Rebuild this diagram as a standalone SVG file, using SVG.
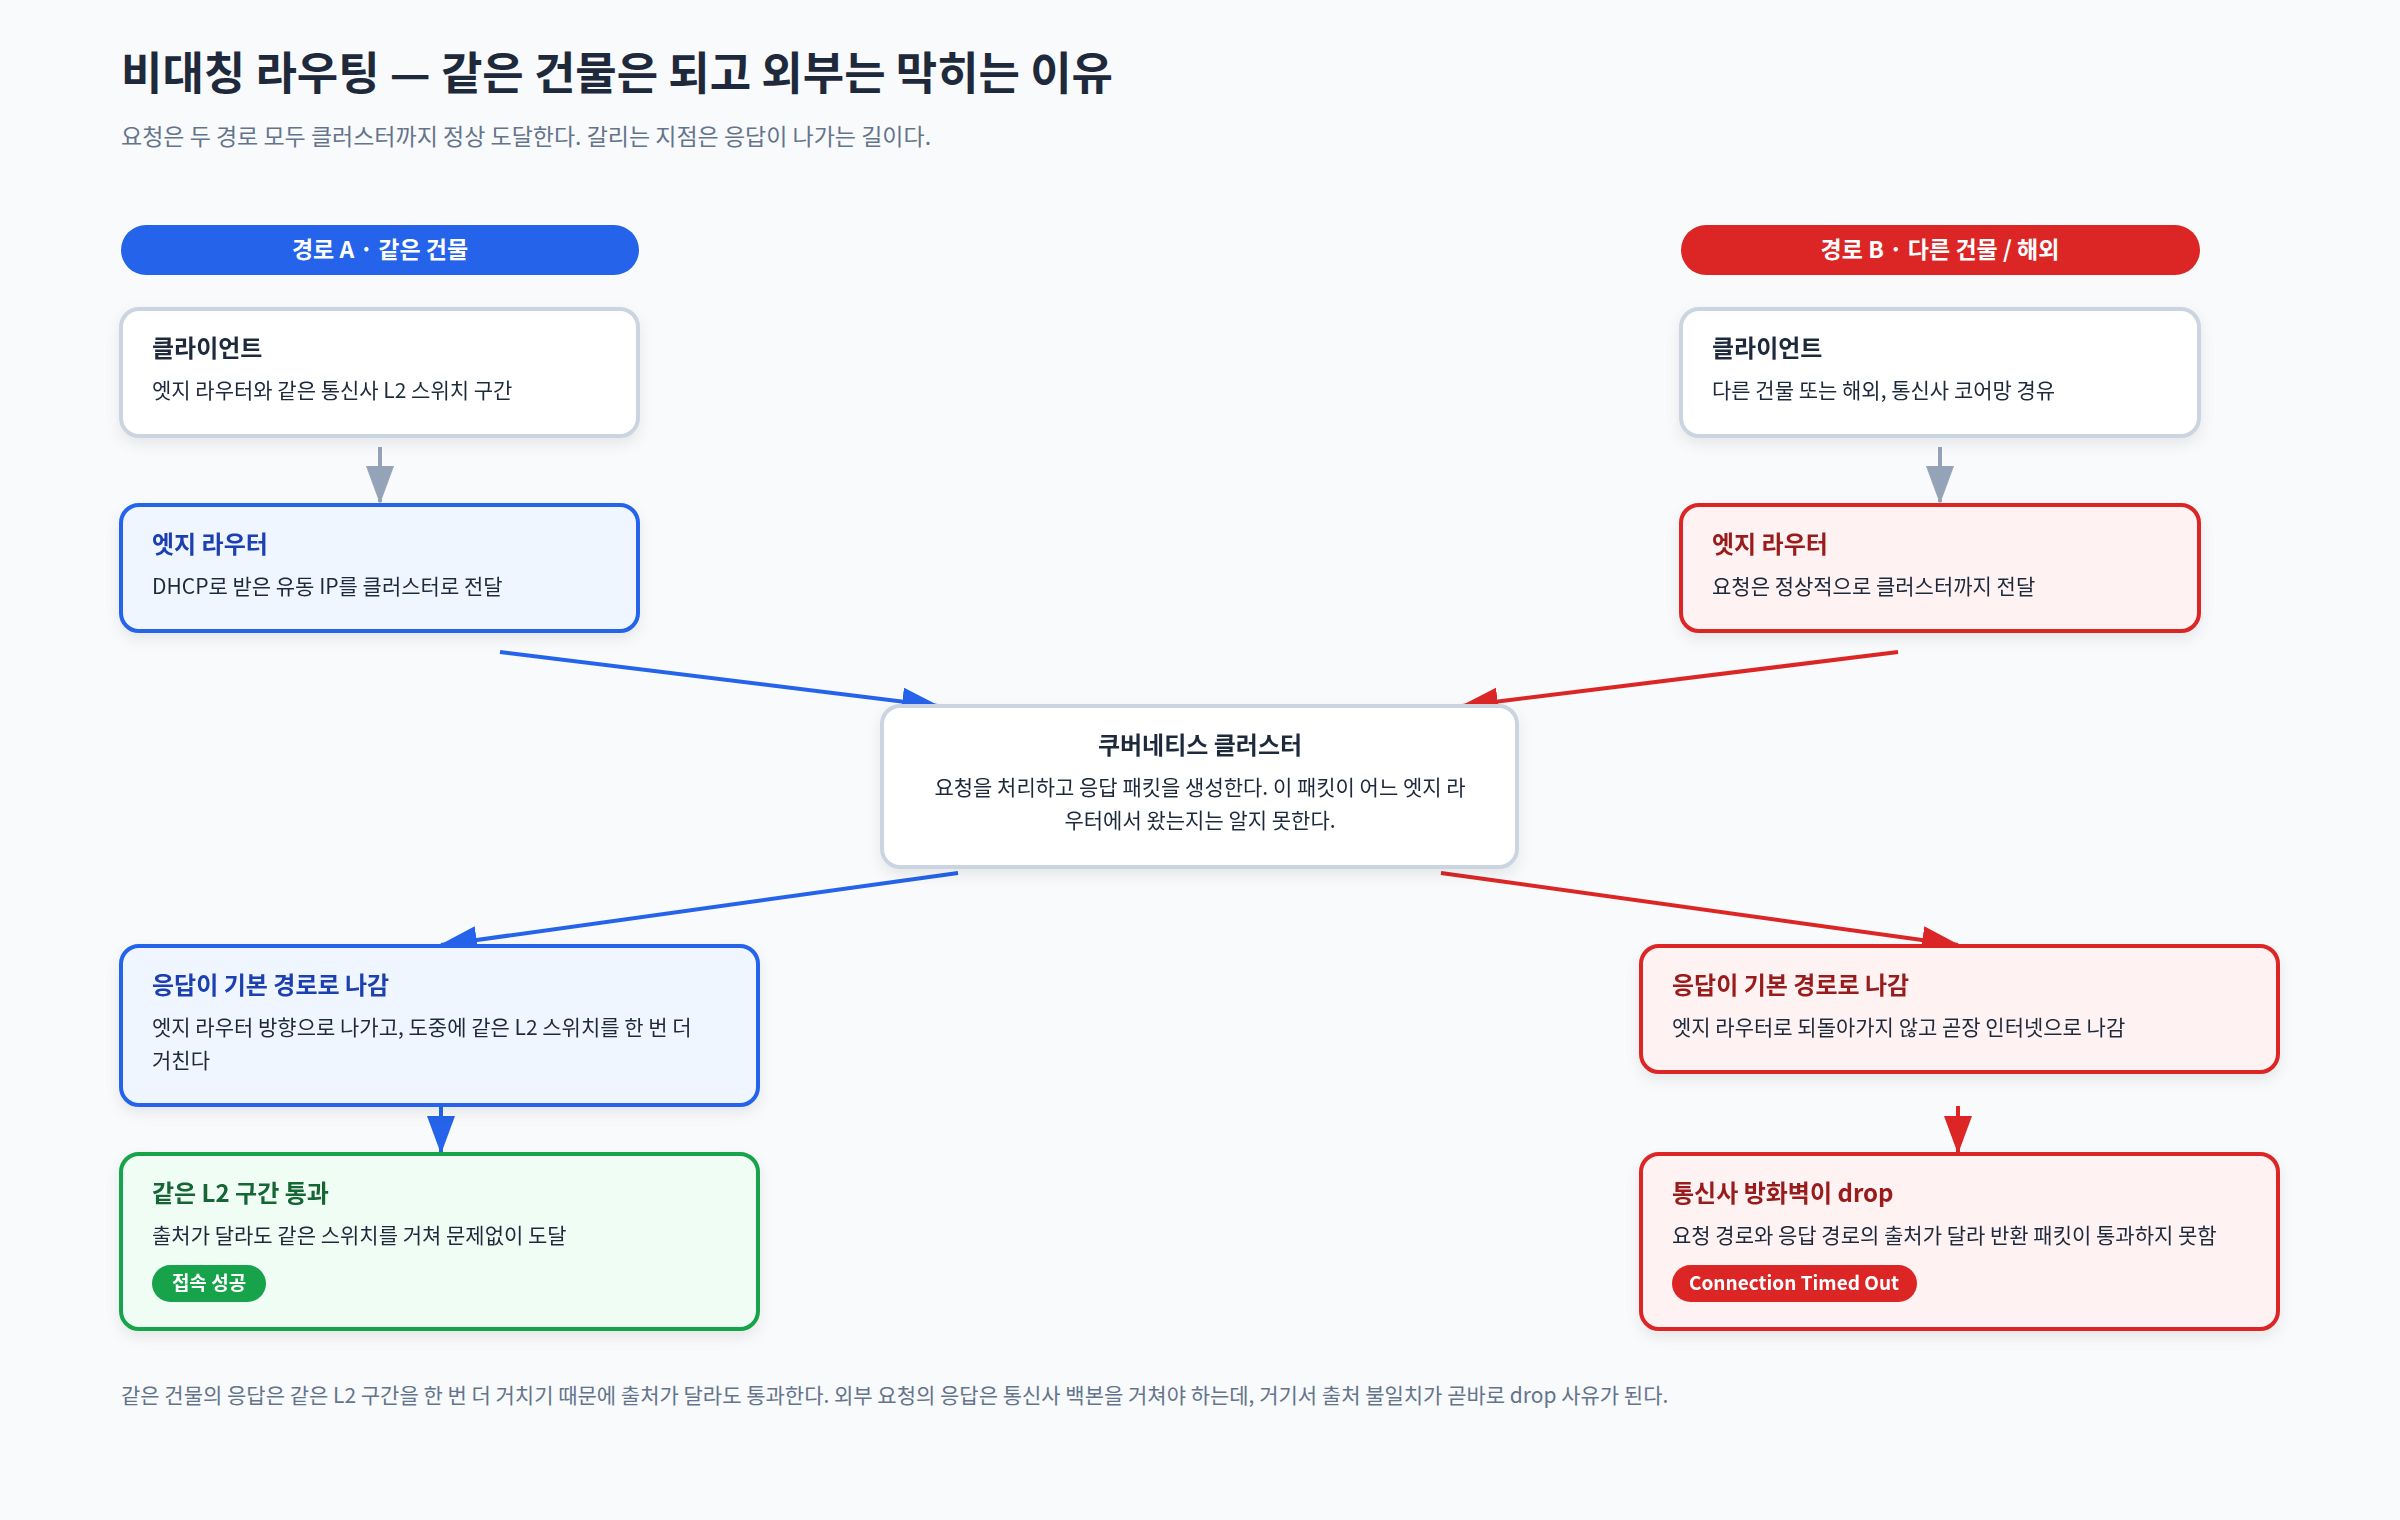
<svg xmlns="http://www.w3.org/2000/svg" width="2400" height="1520" viewBox="0 0 2400 1520">
<style>
text{font-family:"Noto Sans CJK KR","Noto Sans",sans-serif}
.h1{font-size:45px;font-weight:700;fill:#1e293b}
.sub{font-size:23px;fill:#64748b}
.pill{font-size:23px;font-weight:700;fill:#fff}
.t{font-size:24px;font-weight:700}
.d{font-size:21px;fill:#1e293b}
.badge{font-size:19px;font-weight:700;fill:#fff}
.n{stroke-width:4}
.g{fill:#fff;stroke:#cbd5e1}
.b{fill:#eff6ff;stroke:#2563eb}
.r{fill:#fef2f2;stroke:#dc2626}
.gr{fill:#f0fdf4;stroke:#16a34a}
.e{fill:none;stroke-width:4}
</style>
<defs>
<filter id="sh" x="-10%" y="-10%" width="120%" height="140%"><feDropShadow dx="0" dy="6" stdDeviation="7" flood-color="#0f172a" flood-opacity="0.08"/></filter>
<marker id="mg" markerUnits="userSpaceOnUse" markerWidth="40" markerHeight="40" refX="36" refY="14" orient="auto"><path d="M0,0 L38,14 L0,28 Z" fill="#94a3b8"/></marker>
<marker id="mb" markerUnits="userSpaceOnUse" markerWidth="40" markerHeight="40" refX="36" refY="14" orient="auto"><path d="M0,0 L38,14 L0,28 Z" fill="#2563eb"/></marker>
<marker id="mr" markerUnits="userSpaceOnUse" markerWidth="40" markerHeight="40" refX="36" refY="14" orient="auto"><path d="M0,0 L38,14 L0,28 Z" fill="#dc2626"/></marker>
</defs>
<rect width="2400" height="1520" fill="#f8fafc"/>
<text class="h1" x="121" y="90">비대칭 라우팅 — 같은 건물은 되고 외부는 막히는 이유</text>
<text class="sub" x="121" y="145">요청은 두 경로 모두 클러스터까지 정상 도달한다. 갈리는 지점은 응답이 나가는 길이다.</text>

<g id="pillA"><rect x="121" y="225" width="518" height="50" rx="25" fill="#2563eb"/><text class="pill" x="380" y="258" text-anchor="middle">경로 A · 같은 건물</text></g>
<g id="pillB"><rect x="1681" y="225" width="519" height="50" rx="25" fill="#dc2626"/><text class="pill" x="1940" y="258" text-anchor="middle">경로 B · 다른 건물 / 해외</text></g>

<g id="edges">
<line class="e" x1="380" y1="447" x2="380" y2="502" stroke="#94a3b8" marker-end="url(#mg)"/>
<line class="e" x1="1940" y1="447" x2="1940" y2="502" stroke="#94a3b8" marker-end="url(#mg)"/>
<line class="e" x1="500" y1="652" x2="938" y2="706" stroke="#2563eb" marker-end="url(#mb)"/>
<line class="e" x1="1898" y1="652" x2="1462" y2="706" stroke="#dc2626" marker-end="url(#mr)"/>
<line class="e" x1="958" y1="873" x2="441" y2="945" stroke="#2563eb" marker-end="url(#mb)"/>
<line class="e" x1="1441" y1="873" x2="1958" y2="945" stroke="#dc2626" marker-end="url(#mr)"/>
<line class="e" x1="441" y1="1105" x2="441" y2="1152" stroke="#2563eb" marker-end="url(#mb)"/>
<line class="e" x1="1958" y1="1106" x2="1958" y2="1152" stroke="#dc2626" marker-end="url(#mr)"/>
</g>

<g id="clientA" filter="url(#sh)"><rect class="n g" x="121" y="309" width="517" height="127" rx="18"/><text class="t" x="152" y="357" fill="#1e293b">클라이언트</text><text class="d" x="152" y="398">엣지 라우터와 같은 통신사 L2 스위치 구간</text></g>
<g id="clientB" filter="url(#sh)"><rect class="n g" x="1681" y="309" width="518" height="127" rx="18"/><text class="t" x="1712" y="357" fill="#1e293b">클라이언트</text><text class="d" x="1712" y="398">다른 건물 또는 해외, 통신사 코어망 경유</text></g>
<g id="edgeA" filter="url(#sh)"><rect class="n b" x="121" y="505" width="517" height="126" rx="18"/><text class="t" x="152" y="553" fill="#1e40af">엣지 라우터</text><text class="d" x="152" y="594">DHCP로 받은 유동 IP를 클러스터로 전달</text></g>
<g id="edgeB" filter="url(#sh)"><rect class="n r" x="1681" y="505" width="518" height="126" rx="18"/><text class="t" x="1712" y="553" fill="#991b1b">엣지 라우터</text><text class="d" x="1712" y="594">요청은 정상적으로 클러스터까지 전달</text></g>
<g id="cluster" filter="url(#sh)"><rect class="n g" x="882" y="706" width="635" height="161" rx="18"/><text class="t" x="1200" y="754" text-anchor="middle" fill="#1e293b">쿠버네티스 클러스터</text><text class="d" x="1200" y="795" text-anchor="middle">요청을 처리하고 응답 패킷을 생성한다. 이 패킷이 어느 엣지 라</text><text class="d" x="1200" y="828" text-anchor="middle">우터에서 왔는지는 알지 못한다.</text></g>
<g id="respA" filter="url(#sh)"><rect class="n b" x="121" y="946" width="637" height="159" rx="18"/><text class="t" x="152" y="994" fill="#1e40af">응답이 기본 경로로 나감</text><text class="d" x="152" y="1035">엣지 라우터 방향으로 나가고, 도중에 같은 L2 스위치를 한 번 더</text><text class="d" x="152" y="1068">거친다</text></g>
<g id="respB" filter="url(#sh)"><rect class="n r" x="1641" y="946" width="637" height="126" rx="18"/><text class="t" x="1672" y="994" fill="#991b1b">응답이 기본 경로로 나감</text><text class="d" x="1672" y="1035">엣지 라우터로 되돌아가지 않고 곧장 인터넷으로 나감</text></g>
<g id="successA" filter="url(#sh)"><rect class="n gr" x="121" y="1154" width="637" height="175" rx="18"/><text class="t" x="152" y="1202" fill="#166534">같은 L2 구간 통과</text><text class="d" x="152" y="1243">출처가 달라도 같은 스위치를 거쳐 문제없이 도달</text><rect x="152" y="1265" width="114" height="37" rx="18.5" fill="#16a34a"/><text class="badge" x="209" y="1290" text-anchor="middle">접속 성공</text></g>
<g id="dropB" filter="url(#sh)"><rect class="n r" x="1641" y="1154" width="637" height="175" rx="18"/><text class="t" x="1672" y="1202" fill="#991b1b">통신사 방화벽이 drop</text><text class="d" x="1672" y="1243">요청 경로와 응답 경로의 출처가 달라 반환 패킷이 통과하지 못함</text><rect x="1672" y="1265" width="245" height="37" rx="18.5" fill="#dc2626"/><text class="badge" x="1794" y="1290" text-anchor="middle">Connection Timed Out</text></g>

<text class="sub" x="121" y="1403" style="font-size:21px">같은 건물의 응답은 같은 L2 구간을 한 번 더 거치기 때문에 출처가 달라도 통과한다. 외부 요청의 응답은 통신사 백본을 거쳐야 하는데, 거기서 출처 불일치가 곧바로 drop 사유가 된다.</text>
</svg>
